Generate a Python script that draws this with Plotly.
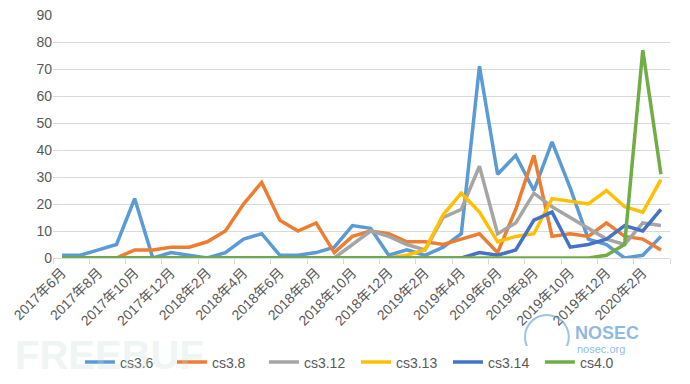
import plotly.graph_objects as go

months = []
for y, m in [(2017, m) for m in range(6, 13)] + [(2018, m) for m in range(1, 13)] + [(2019, m) for m in range(1, 13)] + [(2020, m) for m in range(1, 4)]:
    months.append(f"{y}年{m}月")

cs36 = [1, 1, 3, 5, 22, 0, 2, 1, 0, 2, 7, 9, 1, 1, 2, 4, 12, 11, 1, 3, 1, 4, 9, 71, 31, 38, 25, 43, 26, 7, 5, 0, 1, 8]
cs38 = [0, 0, 0, 0, 3, 3, 4, 4, 6, 10, 20, 28, 14, 10, 13, 2, 8, 10, 9, 6, 6, 5, 7, 9, 2, 18, 38, 8, 9, 8, 13, 8, 7, 3]
cs312 = [0, 0, 0, 0, 0, 0, 0, 0, 0, 0, 0, 0, 0, 0, 0, 0, 5, 10, 8, 5, 3, 15, 18, 34, 9, 13, 24, 19, 15, 11, 7, 5, 13, 12]
cs313 = [0, 0, 0, 0, 0, 0, 0, 0, 0, 0, 0, 0, 0, 0, 0, 0, 0, 0, 0, 1, 3, 16, 24, 17, 6, 8, 9, 22, 21, 20, 25, 19, 17, 29]
cs314 = [0, 0, 0, 0, 0, 0, 0, 0, 0, 0, 0, 0, 0, 0, 0, 0, 0, 0, 0, 0, 0, 0, 0, 2, 1, 3, 14, 17, 4, 5, 7, 12, 10, 18]
cs40 = [0, 0, 0, 0, 0, 0, 0, 0, 0, 0, 0, 0, 0, 0, 0, 0, 0, 0, 0, 0, 0, 0, 0, 0, 0, 0, 0, 0, 0, 0, 1, 5, 77, 31]

series = [
    ("cs3.6", cs36, "#5B9BD5"),
    ("cs3.8", cs38, "#ED7D31"),
    ("cs3.12", cs312, "#A5A5A5"),
    ("cs3.13", cs313, "#FFC000"),
    ("cs3.14", cs314, "#4472C4"),
    ("cs4.0", cs40, "#70AD47"),
]

FONT = "Liberation Sans, Noto Sans CJK SC, sans-serif"

fig = go.Figure()
for name, vals, color in series:
    fig.add_trace(go.Scatter(x=months, y=vals, name=name, mode="lines",
                             line=dict(color=color, width=3.5)))

fig.update_layout(
    width=690, height=384,
    margin=dict(l=53, r=20, t=15, b=126, autoexpand=False),
    paper_bgcolor="white", plot_bgcolor="white",
    font=dict(family=FONT, color="#595959", size=14),
    showlegend=True,
    legend=dict(orientation="h", x=0.491, xanchor="center", y=-0.43, yanchor="middle",
                font=dict(size=14, color="#595959"), traceorder="normal",
                itemwidth=30, entrywidth=47, entrywidthmode="pixels"),
    xaxis=dict(type="category", tickmode="linear", dtick=2, tickangle=-45,
               range=[-0.5, len(months) - 0.5], automargin=False,
               tickson="boundaries", ticks="outside", ticklen=5, tickcolor="#D9D9D9",
               showline=True, linecolor="#D9D9D9", linewidth=1, showgrid=False,
               tickfont=dict(size=14, color="#595959")),
    yaxis=dict(range=[0, 90], dtick=10, showgrid=True, gridcolor="#D9D9D9", gridwidth=1,
               zeroline=False, showline=False, ticks="", automargin=False,
               tickfont=dict(size=14, color="#595959")),
)

fig.add_annotation(text="<b>FREEBUF</b>", xref="paper", yref="paper", x=-0.065, y=-0.40,
                   xanchor="left", yanchor="middle", showarrow=False,
                   font=dict(size=40, color="rgba(200,220,210,0.3)", family="Liberation Sans"))
fig.add_annotation(text="<b>NOSEC</b>", xref="paper", yref="paper", x=0.843, y=-0.31,
                   xanchor="left", yanchor="middle", showarrow=False,
                   font=dict(size=18, color="rgba(91,155,213,0.7)", family="Liberation Sans"))
fig.add_annotation(text="nosec.org", xref="paper", yref="paper", x=0.846, y=-0.375,
                   xanchor="left", yanchor="middle", showarrow=False,
                   font=dict(size=11, color="rgba(91,155,213,0.7)", family="Liberation Sans"))
fig.add_shape(type="circle", xref="paper", yref="paper", x0=0.765, x1=0.836, y0=-0.416, y1=-0.235,
              line=dict(color="rgba(91,155,213,0.6)", width=2))

fig.write_html("out.html", config={"displayModeBar": False},
               post_script="document.body.style.margin='0';document.body.style.overflow='hidden';")
